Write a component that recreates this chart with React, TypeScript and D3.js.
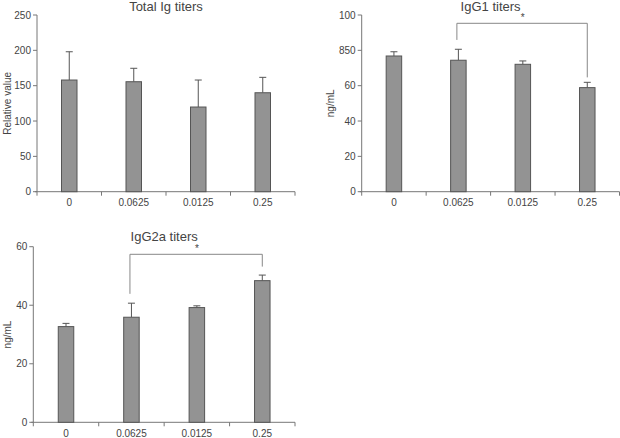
import React from "react";
import * as d3 from "d3";

const categories = ["0", "0.0625", "0.0125", "0.25"];

const totalIgValues = [158, 155.6, 119.8, 140];
const totalIgErrTop = [198, 174.6, 158, 161.8];
const totalIgTicks = [0, 50, 100, 150, 200, 250];
const totalIgTickLabels = ["0", "50", "100", "150", "200", "250"];

const igg1Values = [76.8, 74.4, 72.1, 58.9];
const igg1ErrTop = [79.2, 80.6, 74, 61.9];
const igg1Ticks = [0, 20, 40, 60, 80, 100];
const igg1TickLabels = ["0", "20", "40", "60", "850", "100"];

const igg2aValues = [32.7, 35.9, 39.2, 48.4];
const igg2aErrTop = [33.8, 40.7, 39.8, 50.3];
const igg2aTicks = [0, 20, 40, 60];
const igg2aTickLabels = ["0", "20", "40", "60"];

type Bracket = { from: number; to: number; level: number; leftEnd: number; rightEnd: number };

type PanelProps = {
  title: string;
  yLabel: string;
  values: number[];
  errTop: number[];
  ticks: number[];
  tickLabels: string[];
  yMax: number;
  x0: number;
  x1: number;
  yTop: number;
  yBottom: number;
  titleY: number;
  yLabelX: number;
  xLabelY: number;
  bracket?: Bracket;
};

const AXIS = "#777";
const DARK = "#555";
const FILL = "#939393";
const FONT = "Liberation Sans, Arial, sans-serif";

function Panel(p: PanelProps) {
  const x = d3.scaleBand<string>().domain(categories).range([p.x0, p.x1]).paddingInner(0).paddingOuter(0);
  const y = d3.scaleLinear().domain([0, p.yMax]).range([p.yBottom, p.yTop]);
  const bw = 15.5;
  const bounds = [p.x0, ...categories.map((c) => (x(c) as number) + x.bandwidth())];
  const cx = (i: number) => (x(categories[i]) as number) + x.bandwidth() / 2;
  return (
    <g>
      <text x={(p.x0 + p.x1) / 2} y={p.titleY} textAnchor="middle" fontSize={13} fill="#444" fontFamily={FONT}>
        {p.title}
      </text>
      <text
        transform={`translate(${p.yLabelX},${(p.yTop + p.yBottom) / 2}) rotate(-90)`}
        textAnchor="middle"
        fontSize={10}
        fill="#444"
        fontFamily={FONT}
      >
        {p.yLabel}
      </text>
      {/* y axis */}
      <line x1={p.x0} x2={p.x0} y1={p.yTop} y2={p.yBottom} stroke={AXIS} strokeWidth={1} />
      {p.ticks.map((t, i) => (
        <g key={t}>
          <line x1={p.x0 - 4} x2={p.x0} y1={y(t)} y2={y(t)} stroke={AXIS} />
          <text x={p.x0 - 6} y={y(t)} dy="0.35em" textAnchor="end" fontSize={10} fill="#444" fontFamily={FONT}>
            {p.tickLabels[i]}
          </text>
        </g>
      ))}
      {/* x axis */}
      <line x1={p.x0 - 2} x2={p.x1} y1={p.yBottom} y2={p.yBottom} stroke={AXIS} />
      {bounds.map((b, i) => (
        <line key={i} x1={b} x2={b} y1={p.yBottom} y2={p.yBottom + 4} stroke={AXIS} />
      ))}
      {categories.map((c, i) => (
        <text key={c} x={cx(i)} y={p.xLabelY} textAnchor="middle" fontSize={10} fill="#444" fontFamily={FONT}>
          {c}
        </text>
      ))}
      {/* error bars */}
      {p.values.map((v, i) => (
        <g key={"e" + i}>
          <line x1={cx(i)} x2={cx(i)} y1={y(v)} y2={y(p.errTop[i])} stroke={DARK} strokeWidth={1} />
          <line x1={cx(i) - 3.5} x2={cx(i) + 3.5} y1={y(p.errTop[i])} y2={y(p.errTop[i])} stroke={DARK} strokeWidth={1} />
        </g>
      ))}
      {/* bars */}
      {p.values.map((v, i) => (
        <rect
          key={"b" + i}
          x={cx(i) - bw / 2}
          y={y(v)}
          width={bw}
          height={p.yBottom - y(v)}
          fill={FILL}
          stroke={DARK}
          strokeWidth={1}
        />
      ))}
      {p.bracket && (
        <g>
          <path
            d={`M${cx(p.bracket.from) - 1.5},${y(p.bracket.leftEnd)}V${y(p.bracket.level)}H${cx(p.bracket.to)}V${y(
              p.bracket.rightEnd
            )}`}
            fill="none"
            stroke="#888"
            strokeWidth={1}
          />
          <text
            x={(cx(p.bracket.from) + cx(p.bracket.to)) / 2}
            y={y(p.bracket.level) - 2}
            textAnchor="middle"
            fontSize={10}
            fill="#444"
            fontFamily={FONT}
          >
            *
          </text>
        </g>
      )}
    </g>
  );
}

export default function App() {
  return (
    <svg width={620} height={438} style={{ position: "absolute", left: 0, top: 0, background: "#fff" }}>
      <Panel
        title="Total Ig titers"
        yLabel="Relative value"
        values={totalIgValues}
        errTop={totalIgErrTop}
        ticks={totalIgTicks}
        tickLabels={totalIgTickLabels}
        yMax={250}
        x0={37}
        x1={295}
        yTop={15}
        yBottom={191.7}
        titleY={11}
        yLabelX={11}
        xLabelY={206}
      />
      <Panel
        title="IgG1 titers"
        yLabel="ng/mL"
        values={igg1Values}
        errTop={igg1ErrTop}
        ticks={igg1Ticks}
        tickLabels={igg1TickLabels}
        yMax={100}
        x0={361.7}
        x1={619.5}
        yTop={15}
        yBottom={191.7}
        titleY={11}
        yLabelX={334}
        xLabelY={206}
        bracket={{ from: 1, to: 3, level: 95.3, leftEnd: 85.9, rightEnd: 64.7 }}
      />
      <Panel
        title="IgG2a titers"
        yLabel="ng/mL"
        values={igg2aValues}
        errTop={igg2aErrTop}
        ticks={igg2aTicks}
        tickLabels={igg2aTickLabels}
        yMax={60}
        x0={33.3}
        x1={295}
        yTop={246.7}
        yBottom={422.3}
        titleY={241}
        yLabelX={11}
        xLabelY={437}
        bracket={{ from: 1, to: 3, level: 57.4, leftEnd: 43.9, rightEnd: 53.2 }}
      />
    </svg>
  );
}
